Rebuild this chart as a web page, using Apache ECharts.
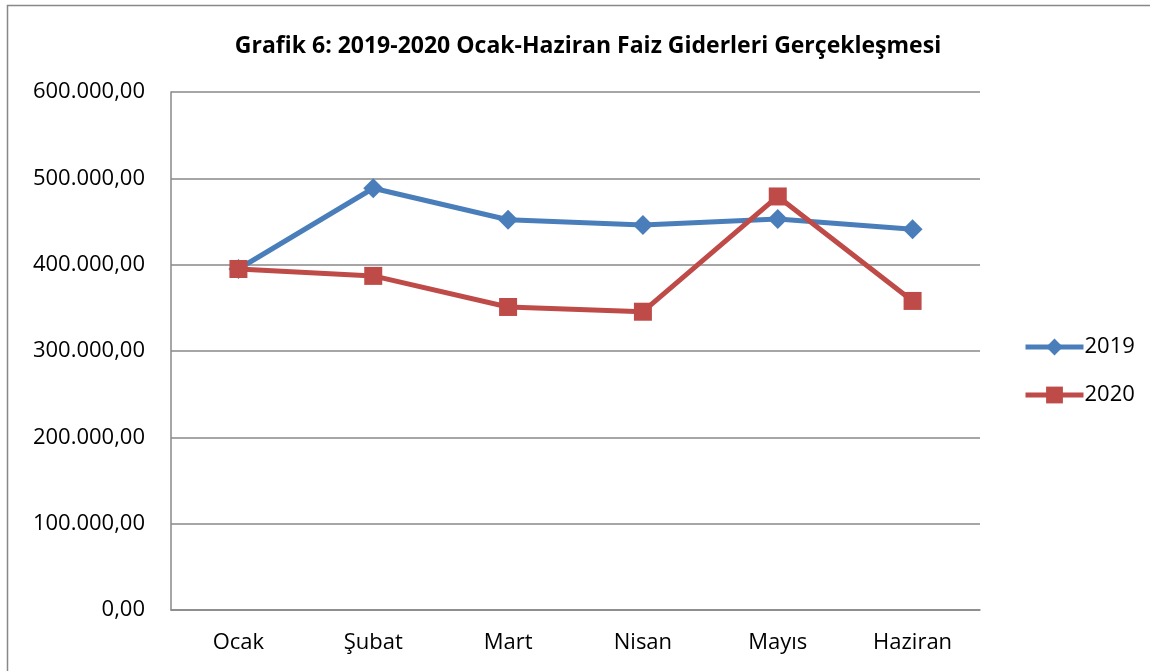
<!DOCTYPE html>
<html><head><meta charset="utf-8">
<script src="https://cdn.jsdelivr.net/npm/echarts@6/dist/echarts.min.js"></script>
<style>html,body{margin:0;padding:0;background:#fff}#c{width:1150px;height:671px}</style>
</head><body><div id="c"></div>
<script>
const categories = ['Ocak','Şubat','Mart','Nisan','Mayıs','Haziran'];
const s2019 = [395000, 488500, 452000, 446000, 453000, 441000];
const s2020 = [395000, 387000, 351000, 345500, 479000, 358000];
const yTicks = [0, 100000, 200000, 300000, 400000, 500000, 600000];
const titleText = 'Grafik 6: 2019-2020 Ocak-Haziran Faiz Giderleri Gerçekleşmesi';

function fmt(v){
  const s = Math.round(v).toString().replace(/\B(?=(\d{3})+(?!\d))/g,'.');
  return s + ',00';
}
const FONT = '"Open Sans", sans-serif';
const chart = echarts.init(document.getElementById('c'));
chart.setOption({
  animation:false,
  backgroundColor:'#fff',
  graphic:[{type:'rect',shape:{x:7.5,y:5.5,width:1160,height:700},style:{fill:'none',stroke:'#888',lineWidth:1.5},silent:true}],
  title:{text:titleText,left:583,top:30,textAlign:'center',textStyle:{fontFamily:FONT,fontWeight:'bold',fontSize:23,color:'#000'}},
  grid:{left:171,right:170,top:92,bottom:61},
  legend:{orient:'vertical',left:1018,top:331,itemWidth:58,itemHeight:21,itemGap:26,
    lineStyle:{width:5},
    textStyle:{fontFamily:FONT,fontSize:22,color:'#000',padding:[0,0,0,-4]},
    data:['2019','2020']},
  xAxis:{type:'category',data:categories,boundaryGap:true,
    axisLine:{lineStyle:{color:'#888',width:1.5}},axisTick:{show:false},
    axisLabel:{fontFamily:FONT,fontSize:22,color:'#000',margin:22}},
  yAxis:{type:'value',min:yTicks[0],max:yTicks[yTicks.length-1],interval:100000,
    axisLine:{show:true,lineStyle:{color:'#888',width:1.5}},axisTick:{show:false},
    splitLine:{lineStyle:{color:'#888',width:1.5}},
    axisLabel:{fontFamily:FONT,fontSize:22,color:'#000',margin:26,formatter:fmt}},
  series:[
    {name:'2019',type:'line',data:s2019,symbol:'diamond',symbolSize:20,
     lineStyle:{color:'#4A7EBB',width:5},itemStyle:{color:'#4A7EBB'},z:2},
    {name:'2020',type:'line',data:s2020,symbol:'rect',symbolSize:18,
     lineStyle:{color:'#BE4B48',width:5},itemStyle:{color:'#BE4B48'},z:3}
  ]
});
</script></body></html>
